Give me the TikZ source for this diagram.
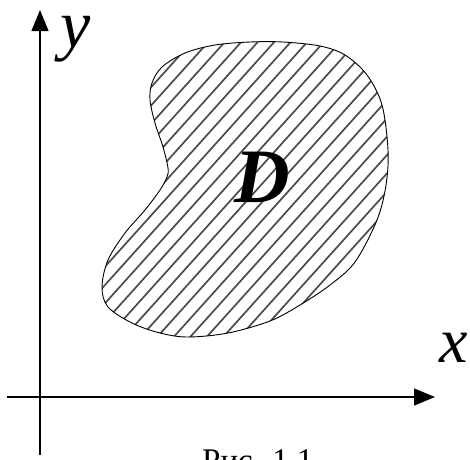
\documentclass[tikz,border=0pt]{standalone}
\usepackage{fontspec}
\setmainfont{Liberation Serif}
\newfontfamily\timesfont{Liberation Serif}
\usetikzlibrary{arrows.meta}
\begin{document}
\begin{tikzpicture}[x=1pt,y=-1pt,
  axis/.style={line width=1.1pt, -{Triangle[length=21pt,width=17pt]}},
  hatchline/.style={black!70, line width=1.7pt},
  outline/.style={line width=0.9pt},
  axlabel/.style={font=\timesfont\fontsize{64}{64}\selectfont\itshape, inner sep=0pt, anchor=base},
  ylabel/.style={font=\timesfont\fontsize{68}{68}\selectfont\itshape, inner sep=0pt, anchor=base},
  dlabel/.style={font=\timesfont\fontsize{77}{77}\selectfont\bfseries\itshape, inner sep=0pt, anchor=base},
  caplabel/.style={font=\timesfont\fontsize{33}{33}\selectfont, inner sep=0pt, anchor=base west},
]
\useasboundingbox (0,0) rectangle (470,459);
\clip (0,0) rectangle (470,459);
\fill[white] (0,0) rectangle (470,459);
% hatching
\begin{scope}
  \clip plot[smooth cycle, tension=0.55] coordinates {
    (150,100) (152,83) (162,67) (185,53) (215,45) (250,42) (283,42) (320,46)
    (345,55) (367,75) (382,105) (388,150) (386,185) (377,220) (355,262) (330,285)
    (300,305) (270,321) (228,333) (188,337) (160,333) (132,323) (108,307) (102,287)
    (108,260) (125,233) (145,210) (160,190) (167,177) (168,168) (163,147) (155,123)};
  \foreach \i in {-2,...,36} {
    \draw[hatchline] ({\i*16.5-300*0.669},{200+300*0.743}) -- ++({600*0.669},{-600*0.743});
  }
\end{scope}
% outline
\draw[outline] plot[smooth cycle, tension=0.55] coordinates {
    (150,100) (152,83) (162,67) (185,53) (215,45) (250,42) (283,42) (320,46)
    (345,55) (367,75) (382,105) (388,150) (386,185) (377,220) (355,262) (330,285)
    (300,305) (270,321) (228,333) (188,337) (160,333) (132,323) (108,307) (102,287)
    (108,260) (125,233) (145,210) (160,190) (167,177) (168,168) (163,147) (155,123)};
% axes
\coordinate (xs) at (7,397);
\coordinate (xe) at (435,397);
\coordinate (ys) at (40,455);
\coordinate (ye) at (40,10);
\draw[axis] (xs) -- (xe);
\draw[axis] (ys) -- (ye);
% labels
\node[ylabel] (ylab) at (76,47) {y};
\node[axlabel] (xlab) at (454,362) {x};
\node[dlabel] (dlab) at (262,202) {D};
\node[caplabel] (cap) at (202,471) {Рис. 1.1};
\end{tikzpicture}
\end{document}
